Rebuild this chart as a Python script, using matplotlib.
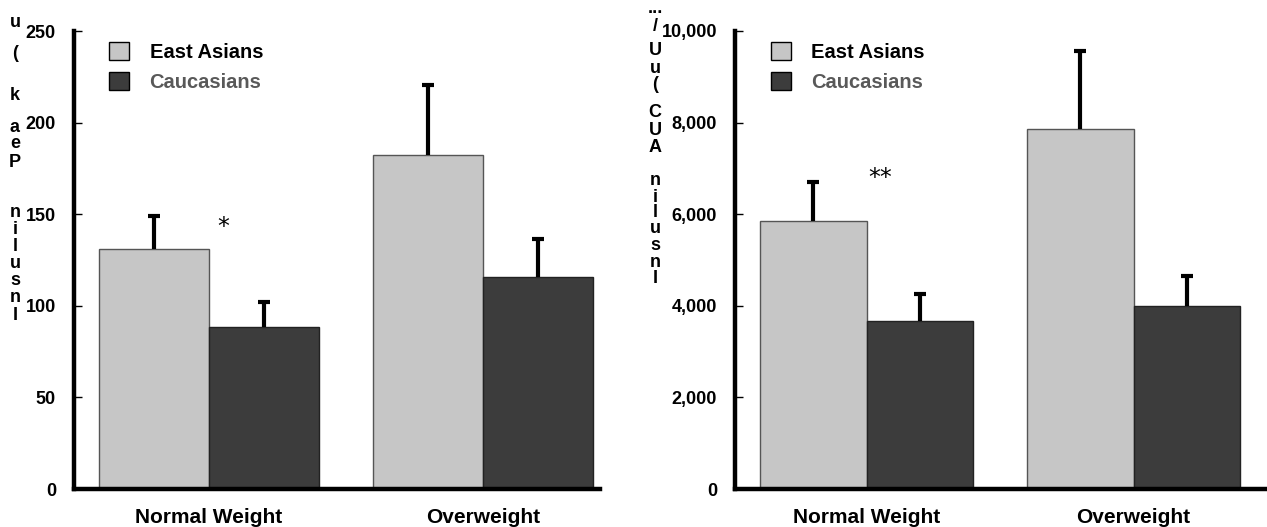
import numpy as np
import matplotlib.pyplot as plt
from matplotlib.patches import Patch

plt.rcParams['font.family'] = ['Liberation Sans', 'DejaVu Sans']
plt.rcParams['font.weight'] = 'bold'

groups = ['Normal Weight', 'Overweight']
series = ['East Asians', 'Caucasians']

# insulin peak (uU/mL)
peak_east = [131, 182.5]
peak_east_err = [18, 38]
peak_cauc = [88.5, 115.5]
peak_cauc_err = [13.5, 21]
peak_ticks = [0, 50, 100, 150, 200, 250]

# insulin AUC
auc_east = [5850, 7870]
auc_east_err = [850, 1690]
auc_cauc = [3660, 4000]
auc_cauc_err = [590, 650]
auc_ticks = [0, 2000, 4000, 6000, 8000, 10000]

east_color = '#c6c6c6'
cauc_color = '#3c3c3c'

W, H = 1267, 527


def upper_errorbar(ax, x, y, err):
	# only the upper half of the error bar, no cap at the bar top
	_, caps, _ = ax.errorbar(x, y, yerr=[np.zeros(len(y)), err], fmt='none',
		ecolor='black', elinewidth=3, capsize=4, capthick=3, zorder=3)
	caps[0].set_visible(False)


def panel(ax, east, east_err, cauc, cauc_err, ticks, labels, star, star_y, xmax):
	index = np.arange(len(groups))
	bar_width = 0.4
	ax.bar(index - bar_width / 2, east, bar_width, color=east_color,
		edgecolor='#555555', linewidth=1, zorder=2)
	ax.bar(index + bar_width / 2, cauc, bar_width, color=cauc_color,
		edgecolor='#222222', linewidth=1, zorder=2)
	upper_errorbar(ax, index - bar_width / 2, east, east_err)
	upper_errorbar(ax, index + bar_width / 2, cauc, cauc_err)

	ax.set_xlim(-0.493, xmax)
	ax.set_ylim(0, ticks[-1])
	ax.set_yticks(ticks)
	ax.set_yticklabels(labels, fontsize=13, fontweight='bold')
	ax.set_xticks(index)
	ax.set_xticklabels(groups, fontsize=15, fontweight='bold')
	ax.tick_params(axis='y', direction='in', length=6, width=1, pad=13)
	ax.tick_params(axis='x', length=0, pad=14)
	for s in ['top', 'right']:
		ax.spines[s].set_visible(False)
	for s in ['left', 'bottom']:
		ax.spines[s].set_linewidth(3.2)

	ax.text(0.05, star_y, star, fontsize=17, fontweight='normal',
		family='DejaVu Sans', ha='center', va='center')

	handles = [Patch(facecolor=east_color, edgecolor='black', linewidth=1),
		Patch(facecolor=cauc_color, edgecolor='black', linewidth=1)]
	leg = ax.legend(handles, series, loc='upper left', bbox_to_anchor=(0.067, 0.975),
		frameon=False, fontsize=14.5, handlelength=1.0, handleheight=1.0,
		handletextpad=1.0, labelspacing=0.5, borderpad=0, borderaxespad=0)
	leg.get_texts()[0].set_color('black')
	leg.get_texts()[1].set_color('#595959')


def stacked_label(fig, text, x_px, baselines):
	chars = [c for c in text if c != ' ']
	for c, y in zip(chars, baselines):
		fig.text(x_px / W, 1 - y / H, c, fontsize=13, fontweight='bold',
			ha='center', va='baseline')


fig = plt.figure(figsize=(W / 100, H / 100), dpi=100)

ax1 = fig.add_axes([74 / W, 1 - 489 / H, 526 / W, 458 / H])
panel(ax1, peak_east, peak_east_err, peak_cauc, peak_cauc_err, peak_ticks,
	[str(t) for t in peak_ticks], '*', 143, 1.427)

ax2 = fig.add_axes([735 / W, 1 - 489 / H, 532 / W, 458 / H])
panel(ax2, auc_east, auc_east_err, auc_cauc, auc_cauc_err, auc_ticks,
	['{:,}'.format(t) for t in auc_ticks], '**', 6780, 1.5)

# vertical axis titles, one character per line, read bottom to top
stacked_label(fig, 'Insulin Peak (u'[::-1], 15,
	[27, 58, 100, 132, 148, 167, 217, 234, 251, 268, 285, 302, 320])
stacked_label(fig, ['...', '/', 'U', 'u', '(', 'C', 'U', 'A', 'n', 'i', 'l', 'u', 's', 'n', 'I'], 655,
	[13, 31, 55, 73, 89, 117, 135, 152, 185, 202, 217, 233, 250, 267, 283])

fig.savefig('out.png', dpi=100)
